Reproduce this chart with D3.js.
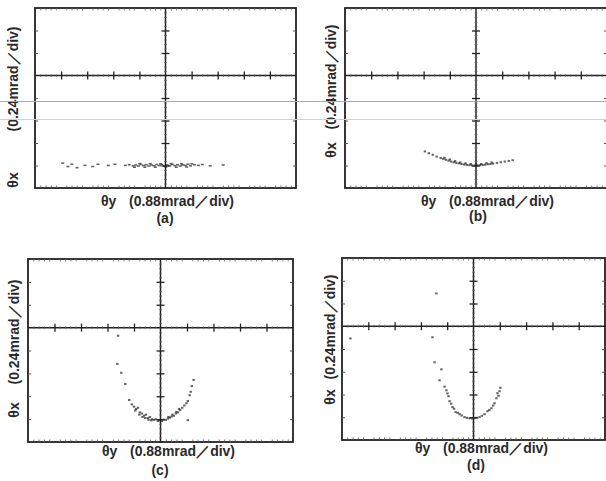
<!DOCTYPE html>
<html>
<head>
<meta charset="utf-8">
<script src="https://cdn.jsdelivr.net/npm/d3@7"></script>
<style>
  body { margin: 0; background: #fff; }
  svg { display: block; }
  .lbl { font-family: "Liberation Sans", Arial, sans-serif; font-size: 14px; font-weight: bold; fill: #2a2a2a; }
</style>
</head>
<body>
<svg id="chart" width="606" height="481"></svg>
<script>
// values in screen divisions (x: 0.88 mrad/div, y: 0.24 mrad/div)
const panelNames = ["(a)", "(b)", "(c)", "(d)"];
const xLabelSym = "θy";
const xLabelUnit = "(0.88mrad／div)";
const yLabelSym = "θx";
const yLabelUnit = "(0.24mrad／div)";
const majorTicksX = [-4, -3, -2, -1, 1, 2, 3, 4];
const majorTicksY = [-4, -3, -2, -1, 1, 2];

const aX = [-3.95, -3.75, -3.6, -3.4, -3.1, -2.8, -2.6, -2.2, -1.95, -1.55, -1.4, -1.25, -1.15, -1.05, -0.95, -0.85, -0.75, -0.65, -0.55, -0.45, -0.35, -0.25, -0.15, -0.05, 0.05, 0.15, 0.25, 0.35, 0.45, 0.55, 0.65, 0.75, 0.85, 0.95, 1.1, 1.25, 1.4, 1.7, 2.2,
  -1.2, -1.0, -0.8, -0.6, -0.4, -0.2, 0.0, 0.2, 0.4, 0.6, 0.8, 1.0];
const aY = [-3.9, -4.05, -3.95, -4.1, -4.0, -4.05, -3.95, -4.0, -3.95, -4.0, -3.97, -4.02, -3.98, -4.03, -3.96, -4.01, -3.97, -4.03, -3.98, -4.02, -3.96, -4.01, -3.97, -4.03, -3.98, -4.02, -3.96, -4.01, -3.97, -4.03, -3.98, -4.0, -3.95, -4.02, -3.97, -4.0, -3.96, -4.02, -3.98,
  -4.08, -3.92, -4.08, -3.92, -4.08, -3.93, -4.07, -3.92, -4.08, -3.93, -4.07, -3.93];

const bX = [-1.95, -1.8, -1.65, -1.5, -1.35, -1.25, -1.15, -1.05, -0.95, -0.85, -0.75, -0.65, -0.55, -0.45, -0.35, -0.25, -0.15, -0.05, 0.05, 0.15, 0.25, 0.35, 0.45, 0.55, 0.65, 0.8, 0.95, 1.1, 1.25, 1.4,
  -1.2, -1.0, -0.8, -0.6, -0.4, -0.2, 0.0, 0.2, 0.4, 0.6];
const bY = [-3.37, -3.45, -3.52, -3.6, -3.66, -3.7, -3.74, -3.78, -3.82, -3.85, -3.88, -3.9, -3.93, -3.95, -3.97, -3.98, -3.99, -4.0, -3.99, -3.98, -3.97, -3.96, -3.94, -3.93, -3.91, -3.88, -3.85, -3.82, -3.79, -3.76,
  -3.65, -3.73, -3.8, -3.86, -3.9, -3.93, -3.94, -3.93, -3.89, -3.86];

const cX = [-1.6, -1.63, -1.48, -1.33, -1.18, -1.08, -1.0, -0.92, -0.85, -0.78, -0.7, -0.62, -0.55, -0.48, -0.4, -0.32, -0.25, -0.18, -0.1, -0.03, 0.05, 0.12, 0.2, 0.28, 0.35, 0.42, 0.5, 0.58, 0.66, 0.74, 0.82, 0.9, 0.98, 1.03, 1.1, 1.14, 1.18, 1.25, 1.03,
  -0.95, -0.8, -0.68, -0.58, -0.45, -0.35, 0.3, 0.45, 0.6, 0.7];
const cY = [-0.35, -1.58, -1.97, -2.46, -3.16, -3.35, -3.45, -3.55, -3.5, -3.7, -3.75, -3.85, -3.8, -3.95, -3.9, -4.0, -4.03, -4.0, -4.08, -4.05, -4.08, -4.02, -4.03, -3.97, -3.93, -3.88, -3.85, -3.75, -3.7, -3.6, -3.5, -3.4, -3.3, -3.2, -2.95, -2.8, -2.55, -2.28, -4.04,
  -3.62, -3.8, -3.9, -3.95, -4.02, -4.05, -3.9, -3.8, -3.68, -3.55];

const dX = [-4.68, -1.41, -1.56, -1.48, -1.22, -1.29, -1.1, -1.03, -0.99, -0.95, -0.91, -0.85, -0.8, -0.74, -0.68, -0.6, -0.53, -0.45, -0.34, -0.25, -0.15, -0.05, 0.04, 0.13, 0.23, 0.32, 0.42, 0.53, 0.6, 0.68, 0.75, 0.8, 0.87, 0.91, 0.95, 0.99, 1.02];
const dY = [-0.53, 1.45, -0.48, -1.58, -1.89, -2.37, -2.65, -2.81, -2.95, -3.07, -3.29, -3.4, -3.55, -3.62, -3.77, -3.8, -3.86, -3.92, -3.99, -4.02, -4.04, -4.05, -4.04, -4.02, -3.99, -3.93, -3.86, -3.73, -3.68, -3.6, -3.48, -3.38, -3.16, -2.94, -3.05, -2.85, -2.7];

const seriesX = [aX, bX, cX, dX];
const seriesY = [aY, bY, cY, dY];

// panel layout (pixels)
const layout = [
  { l: 35, r: 296, t: 8, b: 188, xl: 101, xb: 206, nx: 165, nb: 223, yx: 13, yc: 79, ys: 180 },
  { l: 345, r: 607, t: 8, b: 188, xl: 421, xb: 206, nx: 478, nb: 221, yx: 331, yc: 77, ys: 150 },
  { l: 28, r: 293, t: 259, b: 442, xl: 102, xb: 456, nx: 160, nb: 475, yx: 14, yc: 332, ys: 410 },
  { l: 342, r: 605, t: 258, b: 440, xl: 415, xb: 453, nx: 476, nb: 470, yx: 330, yc: 327, ys: 397 }
];

const svg = d3.select("#chart");
const minor = d3.range(-25, 26).map(i => i / 5).filter(v => v % 1 !== 0);

function tickAxis(g, axis, color, width) {
  g.call(axis);
  g.select(".domain").remove();
  g.selectAll(".tick text").remove();
  g.selectAll(".tick line").attr("stroke", color).attr("stroke-width", width);
}

layout.forEach((p, i) => {
  const x = d3.scaleLinear().domain([-5, 5]).range([p.l, p.r]);
  const y = d3.scaleLinear().domain([-5, 3]).range([p.b, p.t]);
  const g = svg.append("g");

  // frame
  g.append("rect")
    .attr("x", p.l).attr("y", p.t)
    .attr("width", p.r - p.l).attr("height", p.b - p.t)
    .attr("fill", "none").attr("stroke", "#222").attr("stroke-width", 1.8);

  // edge ticks pointing inward
  const yMinor = minor.filter(v => v > -5 && v < 3);
  tickAxis(g.append("g").attr("transform", `translate(0,${p.b})`),
    d3.axisTop(x).tickValues(minor).tickSize(2.5).tickSizeOuter(0), "#555", 0.8);
  tickAxis(g.append("g").attr("transform", `translate(0,${p.t})`),
    d3.axisBottom(x).tickValues(minor).tickSize(2.5).tickSizeOuter(0), "#666", 0.8);
  tickAxis(g.append("g").attr("transform", `translate(${p.l},0)`),
    d3.axisRight(y).tickValues(majorTicksY).tickSize(3).tickSizeOuter(0), "#555", 1);
  tickAxis(g.append("g").attr("transform", `translate(${p.r},0)`),
    d3.axisLeft(y).tickValues(majorTicksY).tickSize(3).tickSizeOuter(0), "#555", 1);

  // centre cross
  g.append("line")
    .attr("x1", p.l).attr("x2", p.r).attr("y1", y(0)).attr("y2", y(0))
    .attr("stroke", "#222").attr("stroke-width", 1.5);
  g.append("line")
    .attr("x1", x(0)).attr("x2", x(0)).attr("y1", p.t).attr("y2", p.b)
    .attr("stroke", "#222").attr("stroke-width", 1.5);

  tickAxis(g.append("g").attr("transform", `translate(0,${y(0) - 4})`),
    d3.axisBottom(x).tickValues(majorTicksX).tickSize(8).tickSizeOuter(0), "#222", 1.3);
  tickAxis(g.append("g").attr("transform", `translate(0,${y(0) - 1.5})`),
    d3.axisBottom(x).tickValues(minor).tickSize(3).tickSizeOuter(0), "#666", 0.7);
  tickAxis(g.append("g").attr("transform", `translate(${x(0) - 4},0)`),
    d3.axisRight(y).tickValues(majorTicksY).tickSize(8).tickSizeOuter(0), "#222", 1.3);
  tickAxis(g.append("g").attr("transform", `translate(${x(0) - 1.5},0)`),
    d3.axisRight(y).tickValues(yMinor).tickSize(3).tickSizeOuter(0), "#666", 0.7);

  // trace points
  const pts = seriesX[i].map((v, k) => [v, seriesY[i][k]]);
  g.append("g").selectAll("rect")
    .data(pts)
    .join("rect")
    .attr("x", d => x(d[0]) - 1.2)
    .attr("y", d => y(d[1]) - 0.9)
    .attr("width", i === 0 ? 3 : 2.4)
    .attr("height", i === 0 ? 1.6 : 2)
    .attr("fill", "#222")
    .attr("opacity", 0.7);

  // labels
  g.append("text").attr("class", "lbl").attr("x", p.xl).attr("y", p.xb).text(xLabelSym);
  g.append("text").attr("class", "lbl").attr("x", p.xl + 28).attr("y", p.xb).text(xLabelUnit);
  g.append("text").attr("class", "lbl").attr("x", p.nx).attr("y", p.nb)
    .attr("text-anchor", "middle").text(panelNames[i]);
  g.append("text").attr("class", "lbl")
    .attr("transform", `translate(${p.yx + 5},${p.yc}) rotate(-90)`)
    .attr("text-anchor", "middle").text(yLabelUnit);
  g.append("text").attr("class", "lbl")
    .attr("transform", `translate(${p.yx + 5},${p.ys}) rotate(-90)`)
    .attr("text-anchor", "middle").text(yLabelSym);
});

// faint scan streaks across the upper half
svg.append("line").attr("x1", 0).attr("x2", 606).attr("y1", 101.5).attr("y2", 101.5)
  .attr("stroke", "#aaa").attr("stroke-width", 1);
svg.append("line").attr("x1", 0).attr("x2", 606).attr("y1", 119.5).attr("y2", 119.5)
  .attr("stroke", "#d0d0d0").attr("stroke-width", 1);
</script>
</body>
</html>
